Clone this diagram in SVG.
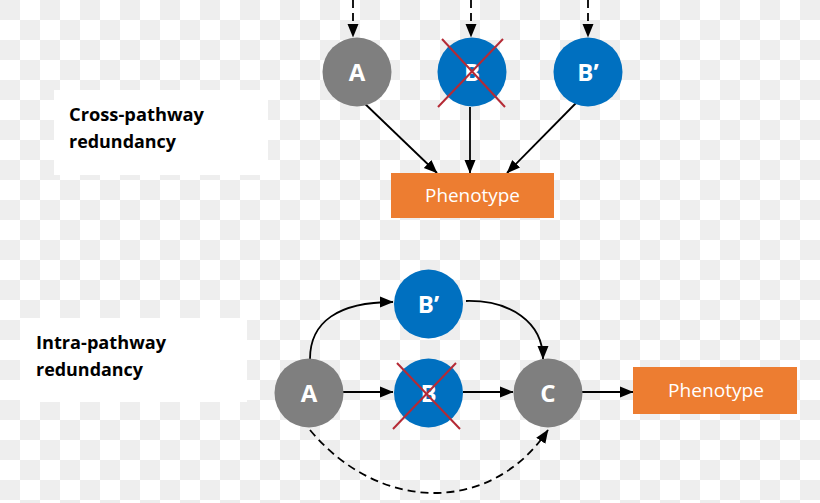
<svg xmlns="http://www.w3.org/2000/svg" width="820" height="503" viewBox="0 0 820 503">
  <defs>
    <pattern id="checker" x="0" y="0" width="40" height="40" patternUnits="userSpaceOnUse">
      <rect x="0" y="0" width="40" height="40" fill="#ffffff"/>
      <rect x="0" y="0" width="20" height="20" fill="#eeeeee"/>
      <rect x="20" y="20" width="20" height="20" fill="#eeeeee"/>
    </pattern>
    <marker id="arrow" markerUnits="userSpaceOnUse" markerWidth="14" markerHeight="14" viewBox="0 0 14 14" refX="13" refY="7" orient="auto">
      <path d="M0,1.5 L13.5,7 L0,12.5 Z" fill="#000000"/>
    </marker>
    <style>
      .gray { fill: #7f7f7f; }
      .blue { fill: #0070c0; }
      .pheno { fill: #ed7d31; }
      .label { fill: #ffffff; font-family: "Open Sans", "Liberation Sans", sans-serif; font-weight: bold; font-size: 24px; text-anchor: middle; }
      .ptext { fill: #ffffff; font-family: "Open Sans", "Liberation Sans", sans-serif; font-size: 19px; text-anchor: middle; }
      .title { fill: #000000; font-family: "Open Sans", "Liberation Sans", sans-serif; font-weight: bold; font-size: 18.5px; }
      .edge { fill: none; stroke: #000000; stroke-width: 1.8; marker-end: url(#arrow); }
      .dash { stroke-dasharray: 8 5; }
      .cross { stroke: #b52a35; stroke-width: 2; fill: none; }
    </style>
  </defs>

  <rect x="0" y="0" width="820" height="503" fill="url(#checker)"/>

  <g id="label-cross">
    <rect x="54" y="90" width="214" height="85" fill="#ffffff"/>
    <text class="title" x="69" y="121" textLength="135" lengthAdjust="spacingAndGlyphs">Cross-pathway</text>
    <text class="title" x="69" y="148" textLength="107" lengthAdjust="spacingAndGlyphs">redundancy</text>
  </g>

  <g id="label-intra">
    <rect x="20" y="318" width="227" height="84" fill="#ffffff"/>
    <text class="title" x="36" y="349" textLength="130" lengthAdjust="spacingAndGlyphs">Intra-pathway</text>
    <text class="title" x="36" y="376" textLength="107" lengthAdjust="spacingAndGlyphs">redundancy</text>
  </g>

  <g id="connectors">
    <line class="edge dash" x1="353" y1="0" x2="353" y2="37"/>
    <line class="edge dash" x1="471" y1="0" x2="471" y2="37"/>
    <line class="edge dash" x1="588" y1="0" x2="588" y2="37"/>
    <line class="edge" x1="361" y1="100" x2="437" y2="173"/>
    <line class="edge" x1="470" y1="107" x2="470" y2="173"/>
    <line class="edge" x1="577" y1="102" x2="507" y2="173"/>

    <line class="edge" x1="343" y1="392" x2="393" y2="392"/>
    <line class="edge" x1="463" y1="392" x2="513" y2="392"/>
    <line class="edge" x1="582" y1="392" x2="633" y2="392"/>
    <path class="edge" d="M310,359 C310,322 338,302 393,302"/>
    <path class="edge" d="M466,301 C510,300 543,322 543,359"/>
    <path class="edge dash" d="M310,430 C380,514 492,514 548,430"/>
  </g>

  <g id="node-top-A">
    <circle class="gray" cx="357" cy="72" r="34.5"/>
    <text class="label" x="357" y="81">A</text>
  </g>
  <g id="node-top-B">
    <circle class="blue" cx="472" cy="72" r="34.5"/>
    <text class="label" x="472" y="81">B</text>
    <line class="cross" x1="442" y1="39" x2="505" y2="107"/>
    <line class="cross" x1="503" y1="39" x2="438" y2="107"/>
  </g>
  <g id="node-top-Bprime">
    <circle class="blue" cx="588" cy="72" r="34.5"/>
    <text class="label" x="588" y="81">B’</text>
  </g>
  <g id="node-top-phenotype">
    <rect class="pheno" x="391" y="173" width="163" height="45"/>
    <text class="ptext" x="472.5" y="202" textLength="95" lengthAdjust="spacingAndGlyphs">Phenotype</text>
  </g>

  <g id="node-bottom-A">
    <circle class="gray" cx="309" cy="393" r="34.5"/>
    <text class="label" x="309" y="402">A</text>
  </g>
  <g id="node-bottom-Bprime">
    <circle class="blue" cx="428.5" cy="304" r="34.5"/>
    <text class="label" x="428.5" y="313">B’</text>
  </g>
  <g id="node-bottom-B">
    <circle class="blue" cx="428.5" cy="393" r="34.5"/>
    <text class="label" x="428.5" y="402">B</text>
    <line class="cross" x1="397" y1="363" x2="460" y2="429"/>
    <line class="cross" x1="456" y1="363" x2="393" y2="429"/>
  </g>
  <g id="node-bottom-C">
    <circle class="gray" cx="548" cy="393" r="34.5"/>
    <text class="label" x="548" y="402">C</text>
  </g>
  <g id="node-bottom-phenotype">
    <rect class="pheno" x="633" y="367" width="164" height="47"/>
    <text class="ptext" x="716" y="397" textLength="96" lengthAdjust="spacingAndGlyphs">Phenotype</text>
  </g>
</svg>
